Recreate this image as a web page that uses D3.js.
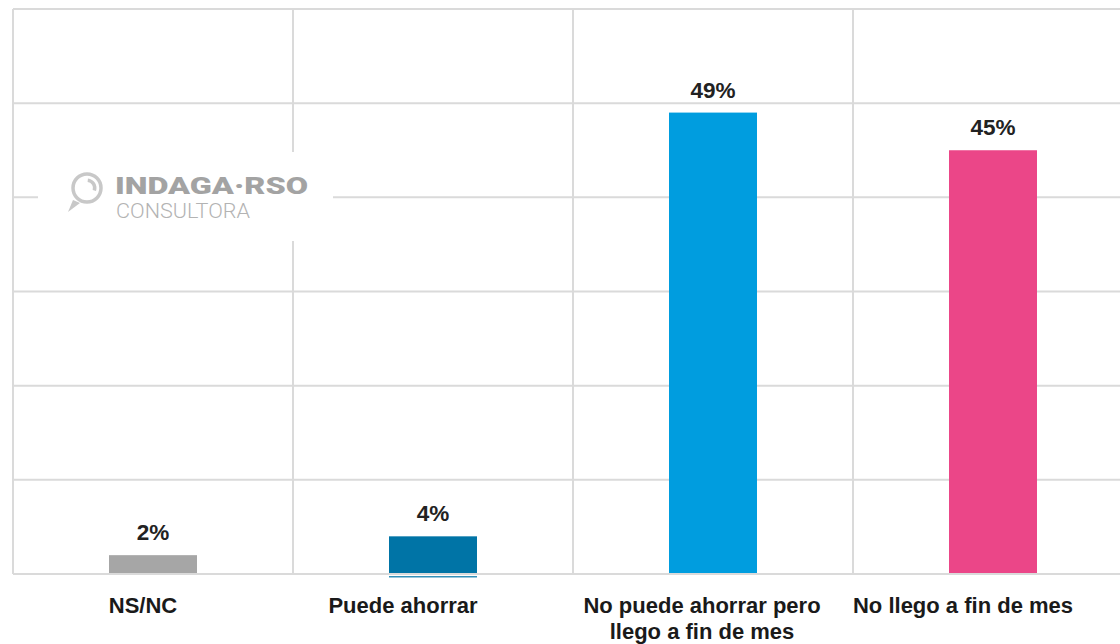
<!DOCTYPE html>
<html><head><meta charset="utf-8">
<script src="https://cdn.jsdelivr.net/npm/d3@7"></script>
<style>body{margin:0;background:#fff}</style>
</head><body>
<svg id="c" width="1120" height="644"></svg>
<script>
const categories = [["NS/NC"], ["Puede ahorrar"], ["No puede ahorrar pero", "llego a fin de mes"], ["No llego a fin de mes"]];
const values = [2, 4, 49, 45];
const colors = ["#a6a6a6", "#0074a6", "#009ddf", "#eb4688"];
const yTicks = [0, 10, 20, 30, 40, 50, 60];

(function () {
const svg = d3.select("#c");
const mLeft = 13, mTop = 9, mBottom = 574, band = 280;
const x = d3.scaleBand().domain(d3.range(categories.length)).range([mLeft, mLeft + band * categories.length]).paddingInner(0).paddingOuter(0);
const y = d3.scaleLinear().domain([0, 60]).range([mBottom, mTop]);
const barW = 88;
const grid = "#dadada";
const labelShift = [-10, -30, -11, -30];

// horizontal gridlines
svg.append("g").selectAll("line").data(yTicks).join("line")
  .attr("x1", mLeft).attr("x2", 1120)
  .attr("y1", d => y(d)).attr("y2", d => y(d))
  .attr("stroke", grid).attr("stroke-width", 2);
// vertical gridlines
svg.append("g").selectAll("line").data(d3.range(categories.length)).join("line")
  .attr("x1", d => x(d)).attr("x2", d => x(d))
  .attr("y1", mTop).attr("y2", mBottom)
  .attr("stroke", grid).attr("stroke-width", 2);

// logo
const logo = svg.append("g");
logo.append("rect").attr("x", 38).attr("y", 152).attr("width", 295).attr("height", 89).attr("fill", "#fff");
const arc = d3.arc();
logo.append("circle").attr("cx", 87).attr("cy", 188).attr("r", 14).attr("fill", "none").attr("stroke", "#c8c8c8").attr("stroke-width", 3.5);
logo.append("path").attr("transform", "translate(87,188)")
  .attr("d", arc({innerRadius: 6, outerRadius: 9.5, startAngle: 0.1, endAngle: 1.9})).attr("fill", "#c8c8c8");
logo.append("path").attr("d", "M73,200 L80,203 L68,212 Z").attr("fill", "#c8c8c8");
logo.append("text").attr("x", 115).attr("y", 194).text("INDAGA·RSO")
  .attr("font-family", "Roboto, 'DejaVu Sans', sans-serif").attr("font-weight", 900).attr("font-size", 24)
  .attr("fill", "#a3a3a3").attr("textLength", 193).attr("lengthAdjust", "spacingAndGlyphs");
logo.append("text").attr("x", 116).attr("y", 218).text("CONSULTORA")
  .attr("font-family", "Roboto, sans-serif").attr("font-weight", 300).attr("font-size", 20)
  .attr("fill", "#b3b3b3").attr("textLength", 134).attr("lengthAdjust", "spacingAndGlyphs");

// bars
svg.append("g").selectAll("rect").data(values).join("rect")
  .attr("x", (d, i) => x(i) + x.bandwidth() / 2 - barW / 2)
  .attr("y", d => y(d)).attr("width", barW)
  .attr("height", d => mBottom - y(d))
  .attr("fill", (d, i) => colors[i]);
// thin underline of second bar seen in the original
svg.append("rect").attr("x", x(1) + x.bandwidth() / 2 - barW / 2).attr("y", mBottom + 2)
  .attr("width", barW).attr("height", 1.5).attr("fill", colors[1]).attr("opacity", 0.8);

// baseline on top
svg.append("line").attr("x1", mLeft).attr("x2", 1120).attr("y1", y(0)).attr("y2", y(0))
  .attr("stroke", grid).attr("stroke-width", 2);

// value labels
svg.append("g").selectAll("text").data(values).join("text")
  .attr("x", (d, i) => x(i) + x.bandwidth() / 2)
  .attr("y", d => y(d) - 15)
  .attr("text-anchor", "middle")
  .attr("font-family", "'Liberation Sans', Arial, sans-serif").attr("font-weight", "bold").attr("font-size", 22.5)
  .attr("fill", "#222").text(d => d + "%");

// category labels
const cl = svg.append("g").selectAll("text").data(categories).join("text")
  .attr("y", 613)
  .attr("text-anchor", "middle")
  .attr("font-family", "'Liberation Sans', Arial, sans-serif").attr("font-weight", "bold").attr("font-size", 22)
  .attr("fill", "#1a1a1a");
cl.selectAll("tspan").data((d, i) => d.map(t => ({t, i}))).join("tspan")
  .attr("x", d => x(d.i) + x.bandwidth() / 2 + labelShift[d.i])
  .attr("dy", (d, j) => j === 0 ? 0 : 26)
  .text(d => d.t);
})();
</script>
</body></html>
